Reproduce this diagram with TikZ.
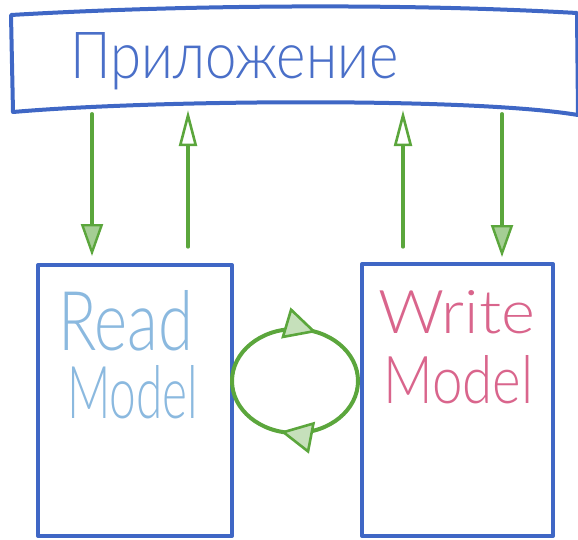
\documentclass[tikz,border=0pt]{standalone}
\usepackage{fontspec}
\usepackage{graphicx}
\usetikzlibrary{arrows.meta,decorations.markings}
\newfontfamily\hand{Lato Light}
\definecolor{boxblue}{HTML}{3F67C5}
\definecolor{appblue}{HTML}{4A6FC8}
\definecolor{readblue}{HTML}{8BB9DF}
\definecolor{writepink}{HTML}{D9658C}
\definecolor{flowgreen}{HTML}{5BA63C}
\begin{document}
\begin{tikzpicture}[x=1pt,y=-1pt,
  boxline/.style={draw=boxblue, line width=4pt, line join=round},
  modelbox/.style={boxline, rectangle, inner sep=0pt},
  flow/.style={draw=flowgreen, line width=3.2pt, line cap=round},
  downhead/.style={-{Triangle[length=32pt,width=22pt,fill=flowgreen!55,line width=2.4pt]}},
  uphead/.style={-{Triangle[open,length=36pt,width=18pt,line width=2.6pt]}},
  cychead/.tip={Triangle[length=32pt,width=32pt,fill=flowgreen!35,line width=2.6pt]},
  lbl/.style={inner sep=0pt, anchor=base west}
]
\useasboundingbox (0,0) rectangle (578,539);

% application box
\node[minimum width=566pt, minimum height=100pt, inner sep=0pt] (app) at (294.5,63.5) {};
\draw[boxline] (11,15) .. controls (180,5) and (400,3) .. (577,13)
  -- (578,115) .. controls (470,97) and (150,100) .. (13,112) -- cycle;
\node[lbl, text=appblue] (applbl) at (70,78) {\resizebox{328pt}{46pt}{\hand Приложение}};

% model boxes
\node[modelbox, minimum width=194pt, minimum height=271pt] (read) at (135,400.5) {};
\node[modelbox, minimum width=191pt, minimum height=272pt] (write) at (457.5,400) {};

\node[lbl, text=readblue] (readl1) at (58,350) {\resizebox{135pt}{60pt}{\hand Read}};
\node[lbl, text=readblue] (readl2) at (67,418) {\resizebox{131pt}{53pt}{\hand Model}};
\node[lbl, text=writepink] (writel1) at (378,333) {\resizebox{157pt}{43pt}{\hand Write}};
\node[lbl, text=writepink] (writel2) at (383,403) {\resizebox{150pt}{48pt}{\hand Model}};

% vertical connectors
\coordinate (x1) at (92,0);
\coordinate (x2) at (188,0);
\coordinate (x3) at (403,0);
\coordinate (x4) at (502,0);
\draw[flow, downhead, shorten >=7pt] (app.south -| x1) -- (read.north -| x1);
\draw[flow, uphead, shorten <=16pt, shorten >=-3.5pt] (read.north -| x2) -- (app.south -| x2);
\draw[flow, uphead, shorten <=15pt, shorten >=-3.5pt] (write.north -| x3) -- (app.south -| x3);
\draw[flow, downhead, shorten >=5pt] (app.south -| x4) -- (write.north -| x4);

% sync cycle
\coordinate (cyc) at (295,381);
\draw[flow, line width=4pt, postaction={decorate},
  decoration={markings,
    mark=at position 0.31 with {\arrow{cychead}},
    mark=at position 0.79 with {\arrow{cychead}}}]
  (cyc) ++(-63pt,0pt) arc[start angle=180, end angle=0, x radius=63pt, y radius=52pt]
  arc[start angle=0, end angle=-180, x radius=63pt, y radius=52pt];
\end{tikzpicture}
\end{document}
